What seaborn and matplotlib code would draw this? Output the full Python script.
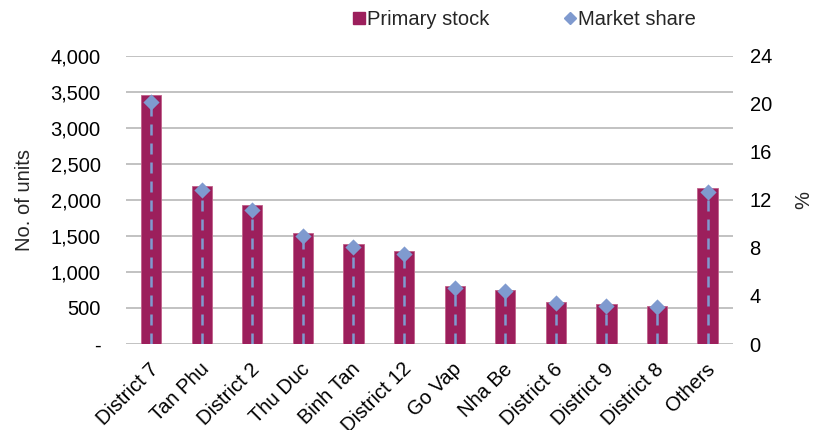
import matplotlib
matplotlib.use("Agg")
import matplotlib.pyplot as plt
import matplotlib.transforms as mtransforms
from matplotlib.lines import Line2D
import pandas as pd
import seaborn as sns

districts = ["District 7", "Tan Phu", "District 2", "Thu Duc", "Binh Tan", "District 12",
             "Go Vap", "Nha Be", "District 6", "District 9", "District 8", "Others"]
primary_stock = [3460, 2200, 1925, 1540, 1385, 1285, 805, 750, 580, 555, 525, 2170]
market_share = [20.2, 12.8, 11.2, 9.0, 8.1, 7.5, 4.7, 4.4, 3.4, 3.2, 3.1, 12.7]

left_ticks = [0, 500, 1000, 1500, 2000, 2500, 3000, 3500, 4000]
left_labels = ["-", "500", "1,000", "1,500", "2,000", "2,500", "3,000", "3,500", "4,000"]
right_ticks = [0, 4, 8, 12, 16, 20, 24]

BAR = "#9C1F5C"
DOT = "#7F9ACF"
FS = 14.5

sns.set_theme(style="white")
plt.rcParams["font.family"] = ["Liberation Sans", "DejaVu Sans"]

df = pd.DataFrame({"district": districts, "stock": primary_stock, "share": market_share})

fig = plt.figure(figsize=(8.17, 4.30), dpi=100)
ax = fig.add_axes([0.154, 0.2, 0.743, 0.67])

sns.barplot(data=df, x="district", y="stock", color=BAR, width=0.4, saturation=1,
            edgecolor="#C0608A", linewidth=0.6, ax=ax, zorder=3)
ax.set_ylim(0, 4000)
ax.set_yticks(left_ticks)
ax.set_yticklabels(left_labels, fontsize=FS)
ax.set_xlim(-0.5, len(districts) - 0.5)
ax.set_xlabel("")
ax.set_ylabel("No. of units", fontsize=FS, labelpad=12)
ax.grid(axis="y", color="#BDBDBD", linewidth=1.3, zorder=0)
for s in ax.spines.values():
    s.set_visible(False)
ax.tick_params(axis="y", length=0, colors="black", pad=18)
ax.tick_params(axis="x", length=0, colors="black", pad=16)
ax.set_xticks(range(len(districts)))
ax.set_xticklabels(districts, rotation=45, ha="right", va="center",
                   rotation_mode="anchor", fontsize=FS)
shift = mtransforms.ScaledTranslation(3 / 72, 0, fig.dpi_scale_trans)
for lbl in ax.get_xticklabels():
    lbl.set_transform(lbl.get_transform() + shift)

ax2 = ax.twinx()
ax2.set_ylim(0, 24)
ax2.set_yticks(right_ticks)
ax2.set_yticklabels([str(t) for t in right_ticks], fontsize=FS)
ax2.vlines(range(len(districts)), 0, df["share"], colors=DOT, linestyles=(0, (4.4, 3.2)),
           linewidth=1.8, zorder=4)
sns.scatterplot(data=df, x="district", y="share", marker="D", s=68, color=DOT,
                edgecolor=DOT, linewidth=0, ax=ax2, zorder=5)
ax2.set_ylabel("%", fontsize=FS, rotation=90, labelpad=16)
ax2.set_xlabel("")
for s in ax2.spines.values():
    s.set_visible(False)
ax2.tick_params(axis="y", length=0, colors="black", pad=12)
ax2.grid(False)

handles = [Line2D([], [], marker="s", linestyle="none", markersize=9, color=BAR),
           Line2D([], [], marker="D", linestyle="none", markersize=6, color=DOT)]
fig.legend(handles, ["Primary stock", "Market share"], loc="center", ncol=2,
           bbox_to_anchor=(0.641, 0.955), frameon=False, fontsize=FS,
           handletextpad=0.0, columnspacing=3.6, handlelength=0.8)

fig.savefig("out.png", dpi=100)
